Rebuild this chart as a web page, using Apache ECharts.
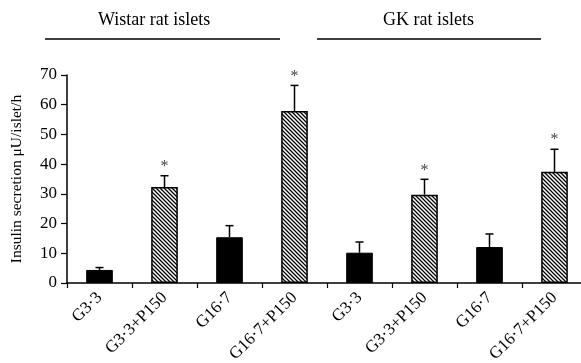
<!DOCTYPE html>
<html>
<head>
<meta charset="utf-8">
<script src="https://cdn.jsdelivr.net/npm/echarts@6/dist/echarts.min.js"></script>
<style>
  html, body { margin: 0; padding: 0; background: #fff; }
  #chart { width: 581px; height: 363px; }
</style>
</head>
<body>
<div id="chart"></div>
<script>
// categories and readings (μU/islet/h)
const categories = ['G3·3', 'G3·3+P150', 'G16·7', 'G16·7+P150', 'G3·3', 'G3·3+P150', 'G16·7', 'G16·7+P150'];
const means = [4.4, 32.3, 15.4, 57.9, 10.2, 29.7, 12.1, 37.4];
const errors = [0.8, 3.8, 3.9, 8.6, 3.6, 5.2, 4.4, 7.6];
const significant = [false, true, false, true, false, true, false, true];
const hatched = [false, true, false, true, false, true, false, true];
const groupNames = ['Wistar rat islets', 'GK rat islets'];
const yTicks = { min: 0, max: 70, interval: 10 };

const font = '"Liberation Serif", "Times New Roman", serif';

// diagonal hatch pattern
function makeHatch() {
  const s = 4;
  const c = document.createElement('canvas');
  c.width = s; c.height = s;
  const ctx = c.getContext('2d');
  ctx.fillStyle = '#fff';
  ctx.fillRect(0, 0, s, s);
  ctx.strokeStyle = '#000';
  ctx.lineWidth = 1.3;
  ctx.beginPath();
  ctx.moveTo(-1, -1); ctx.lineTo(s + 1, s + 1);
  ctx.moveTo(-1, s - 1); ctx.lineTo(1, s + 1);
  ctx.moveTo(s - 1, -1); ctx.lineTo(s + 1, 1);
  ctx.stroke();
  return c;
}
const hatch = makeHatch();

const barData = means.map((v, i) => ({
  value: v,
  itemStyle: hatched[i]
    ? { color: { image: hatch, repeat: 'repeat' }, borderColor: '#000', borderWidth: 1.5 }
    : { color: '#000', borderColor: '#000', borderWidth: 1 }
}));

const errData = means.map((v, i) => [i, v, errors[i], significant[i] ? 1 : 0]);

const myChart = echarts.init(document.getElementById('chart'));

const option = {
  animation: false,
  grid: { left: 67, top: 75, width: 520, height: 208, outerBoundsMode: 'none', containLabel: false },
  xAxis: {
    type: 'category',
    data: categories,
    axisLine: { lineStyle: { color: '#000', width: 1.5 } },
    axisTick: { show: true, length: 5, lineStyle: { color: '#000', width: 1.2 } },
    axisLabel: {
      rotate: 45,
      interval: 0,
      margin: 12,
      color: '#000',
      fontFamily: font,
      fontSize: 17
    }
  },
  yAxis: {
    type: 'value',
    min: yTicks.min,
    max: yTicks.max,
    interval: yTicks.interval,
    name: 'Insulin secretion μU/islet/h',
    nameLocation: 'middle',
    nameGap: 42,
    nameTextStyle: { color: '#000', fontFamily: font, fontSize: 15.5 },
    axisLine: { show: true, lineStyle: { color: '#000', width: 1.5 } },
    axisTick: { show: true, length: 6, lineStyle: { color: '#000', width: 1.2 } },
    splitLine: { show: false },
    axisLabel: { color: '#000', fontFamily: font, fontSize: 17, margin: 10 }
  },
  graphic: [
    { type: 'text', left: 98, top: 11, style: { text: groupNames[0], font: '18px ' + font, fill: '#000' } },
    { type: 'line', shape: { x1: 45, y1: 39, x2: 280, y2: 39 }, style: { stroke: '#000', lineWidth: 1.5 } },
    { type: 'text', left: 383, top: 11, style: { text: groupNames[1], font: '18px ' + font, fill: '#000' } },
    { type: 'line', shape: { x1: 317, y1: 39, x2: 541, y2: 39 }, style: { stroke: '#000', lineWidth: 1.5 } }
  ],
  series: [
    {
      type: 'bar',
      data: barData,
      barWidth: '41%'
    },
    {
      type: 'custom',
      data: errData,
      z: 5,
      renderItem(params, api) {
        const i = api.value(0);
        const v = api.value(1);
        const e = api.value(2);
        const star = api.value(3);
        const base = api.coord([i, v]);
        const top = api.coord([i, v + e]);
        const half = 4;
        const children = [
          { type: 'line', shape: { x1: base[0], y1: base[1], x2: top[0], y2: top[1] }, style: { stroke: '#000', lineWidth: 1.5 } },
          { type: 'line', shape: { x1: top[0] - half, y1: top[1], x2: top[0] + half, y2: top[1] }, style: { stroke: '#000', lineWidth: 1.5 } }
        ];
        if (star) {
          children.push({
            type: 'text',
            style: { text: '*', x: top[0], y: top[1] - 1, align: 'center', verticalAlign: 'bottom', font: '16px ' + font, fill: '#444' }
          });
        }
        return { type: 'group', children };
      }
    }
  ]
};

myChart.setOption(option);
</script>
</body>
</html>
